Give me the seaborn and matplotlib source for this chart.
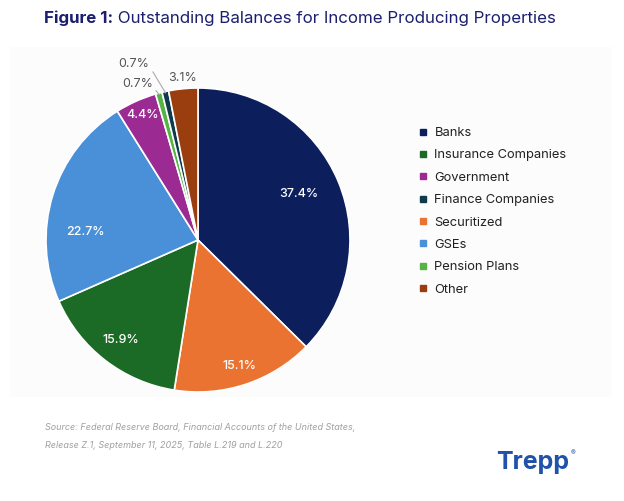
import matplotlib
matplotlib.use("Agg")
import matplotlib.pyplot as plt
import seaborn as sns
import numpy as np
from matplotlib.lines import Line2D
from matplotlib.patches import Rectangle

# ---- data ----
slice_labels = ["Banks", "Securitized", "Insurance Companies", "GSEs",
                "Government", "Pension Plans", "Finance Companies", "Other"]
slice_values = [37.4, 15.1, 15.9, 22.7, 4.4, 0.7, 0.7, 3.1]
legend_order = ["Banks", "Insurance Companies", "Government", "Finance Companies",
                "Securitized", "GSEs", "Pension Plans", "Other"]
title_bold = "Figure 1:"
title_rest = " Outstanding Balances for Income Producing Properties"
source_lines = ["Source: Federal Reserve Board, Financial Accounts of the United States,",
                "Release Z.1, September 11, 2025, Table L.219 and L.220"]

colors = {
    "Banks": "#0c1f5c",
    "Insurance Companies": "#1b6b26",
    "Government": "#9c2a93",
    "Finance Companies": "#0f3a4c",
    "Securitized": "#ea7331",
    "GSEs": "#4a90d8",
    "Pension Plans": "#55b443",
    "Other": "#9a3d0f",
}

sns.set_theme(style="white")
plt.rcParams["font.family"] = ["Inter", "DejaVu Sans"]

W, H = 624, 501
fig = plt.figure(figsize=(W / 100, H / 100), dpi=100)
fig.patch.set_facecolor("white")

# faint panel
panel = Rectangle((10 / W, 1 - 397 / H), 602 / W, 350 / H,
                  transform=fig.transFigure, facecolor="#fcfcfc",
                  edgecolor="none", zorder=-5)
fig.patches.append(panel)

cx, cy, R = 198, 240, 152
ax = fig.add_axes([(cx - R) / W, (H - cy - R) / H, 2 * R / W, 2 * R / H])
ax.set_zorder(2)
ax.set_facecolor("none")
wedges, _ = ax.pie(slice_values, colors=[colors[l] for l in slice_labels],
                   startangle=90, counterclock=False, radius=1,
                   wedgeprops=dict(edgecolor="white", linewidth=1.2))
ax.set_xlim(-1, 1)
ax.set_ylim(-1, 1)
ax.set_aspect("equal")
ax.axis("off")

# label styling: (radial distance, angle offset deg, inside?)
label_style = {
    "Banks": (0.73, 2, True),
    "Securitized": (0.87, 0, True),
    "Insurance Companies": (0.83, 0, True),
    "GSEs": (0.745, 13, True),
    "Government": (0.90, 0, True),
    "Other": (1.07, 0, False),
}
for w, lab, val in zip(wedges, slice_labels, slice_values):
    mid = np.deg2rad((w.theta1 + w.theta2) / 2)
    if lab in label_style:
        r, off, inside = label_style[lab]
        a = mid + np.deg2rad(off)
        ax.text(r * np.cos(a), r * np.sin(a), f"{val:.1f}%",
                ha="center", va="center", fontsize=9,
                color="white" if inside else "#555555",
                fontweight="medium" if inside else "normal")
    else:
        # small slices with leader lines
        tx, ty = (-0.42, 1.158) if lab == "Finance Companies" else (-0.40, 1.026)
        ex, ey = np.cos(mid) * 0.99, np.sin(mid) * 0.99
        ax.annotate(f"{val:.1f}%", xy=(ex, ey), xytext=(tx, ty),
                    ha="center", va="center", fontsize=9, color="#555555",
                    arrowprops=dict(arrowstyle="-", color="#aaaaaa", lw=0.8,
                                    shrinkA=0, shrinkB=0,
                                    relpos=(1.0, 0.3)))

# legend
handles = [Line2D([0], [0], marker="s", linestyle="none", markersize=5,
                  markerfacecolor=colors[l], markeredgecolor=colors[l])
           for l in legend_order]
leg = fig.legend(handles, legend_order, loc="upper left",
                 bbox_to_anchor=(419 / W, 1 - 127 / H), frameon=False,
                 fontsize=9.3, handlelength=0.6, handletextpad=0.6,
                 labelspacing=0.8, borderaxespad=0, borderpad=0)
for t in leg.get_texts():
    t.set_color("#222222")

# title
navy = "#1b1f6e"
t1 = fig.text(44 / W, 1 - 18 / H, title_bold, fontsize=12.2, fontweight="bold",
              color=navy, ha="left", va="center")
fig.canvas.draw()
bb = t1.get_window_extent()
fig.text(bb.x1 / W, 1 - 18 / H, title_rest, fontsize=12.2, color=navy,
         ha="left", va="center")

# source
for i, line in enumerate(source_lines):
    fig.text(45 / W, 1 - (428 + 18 * i) / H, line, fontsize=6.5,
             style="italic", color="#a0a0a0", ha="left", va="center")

# logo
tr = fig.text(496 / W, 1 - 462 / H, "Trepp", fontsize=18, fontweight="bold",
              color="#1f52a8", ha="left", va="center")
fig.canvas.draw()
bb2 = tr.get_window_extent()
fig.text(bb2.x1 / W + 0.002, 1 - 453 / H, "®", fontsize=5, color="#1f52a8",
         ha="left", va="center")

fig.savefig("out.png", dpi=100)
